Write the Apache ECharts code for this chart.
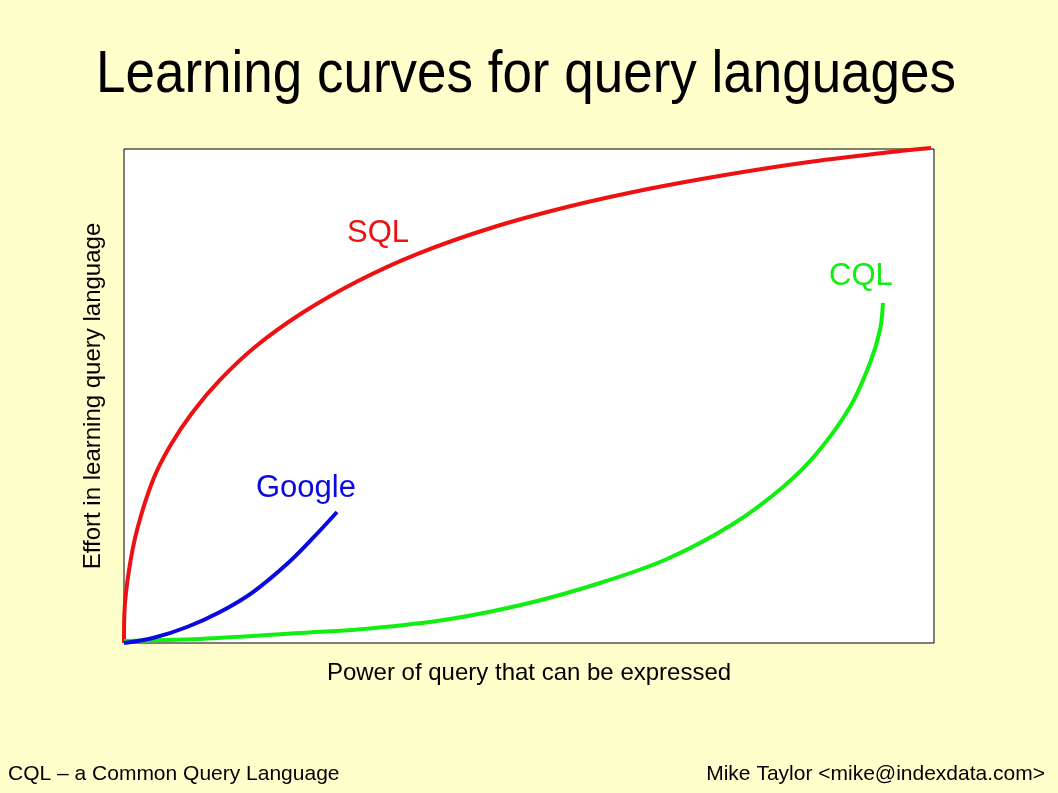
<!DOCTYPE html>
<html>
<head>
<meta charset="utf-8">
<script src="https://cdn.jsdelivr.net/npm/echarts@6/dist/echarts.min.js"></script>
<style>
html,body{margin:0;padding:0;background:#FFFFCC;}
#c{width:1058px;height:793px;}
</style>
</head>
<body>
<div id="c"></div>
<script>
const titleText = 'Learning curves for query languages';
const xAxisName = 'Power of query that can be expressed';
const yAxisName = 'Effort in learning query language';
const footerLeft = 'CQL \u2013 a Common Query Language';
const footerRight = 'Mike Taylor <mike@indexdata.com>';

const seriesNames = ['SQL', 'CQL', 'Google'];

const sqlX = [0, 0.05, 0.62, 1.67, 3.58, 5.65, 8.40, 11.85, 16.17, 21.98, 28.89, 36.17, 45.68, 55.19, 64.69, 74.20, 83.70, 93.09, 99.63];
const sqlY = [0, 6.07, 14.78, 23.28, 33.00, 39.78, 46.56, 53.24, 59.92, 66.80, 73.28, 78.74, 84.21, 88.46, 91.90, 94.74, 97.17, 99.09, 100.20];

const cqlX = [0, 9.38, 21.73, 30.37, 40.25, 49.51, 58.77, 67.04, 75.19, 81.36, 85.56, 89.63, 92.10, 93.33, 93.70];
const cqlY = [0.40, 0.81, 2.02, 2.94, 4.86, 7.89, 12.15, 17.00, 24.09, 31.58, 38.46, 47.77, 56.68, 63.36, 68.83];

const googleX = [0, 3.58, 7.78, 11.85, 15.93, 20.12, 23.33, 26.30];
const googleY = [0, 1.01, 3.24, 6.28, 10.32, 15.99, 21.26, 26.52];

const pair = (xs, ys) => xs.map((x, i) => [x, ys[i]]);

const FONT = 'Liberation Sans, Arial, sans-serif';
const RED = '#EE1111', GREEN = '#11EE11', BLUE = '#0A0AE0';
const SMOOTH = 0.35;
const chart = echarts.init(document.getElementById('c'), null, {renderer: 'canvas'});

chart.setOption({
  backgroundColor: '#FFFFCC',
  animation: false,
  grid: {
    left: 124, right: 124, top: 149, bottom: 150,
    show: true, backgroundColor: '#FFFFFF', borderColor: '#000000', borderWidth: 1
  },
  xAxis: {
    type: 'value', min: 0, max: 100,
    axisLine: {show: false}, axisTick: {show: false}, axisLabel: {show: false}, splitLine: {show: false},
    name: xAxisName, nameLocation: 'middle', nameGap: 18,
    nameTextStyle: {fontFamily: FONT, fontSize: 24, color: '#000'}
  },
  yAxis: {
    type: 'value', min: 0, max: 100,
    axisLine: {show: false}, axisTick: {show: false}, axisLabel: {show: false}, splitLine: {show: false},
    name: yAxisName, nameLocation: 'middle', nameGap: 19, nameRotate: 90,
    nameTextStyle: {fontFamily: FONT, fontSize: 24, color: '#000'}
  },
  series: [
    {
      name: seriesNames[0], type: 'line', data: pair(sqlX, sqlY), smooth: SMOOTH, symbol: 'none', clip: false,
      lineStyle: {color: RED, width: 4}
    },
    {
      name: seriesNames[1], type: 'line', data: pair(cqlX, cqlY), smooth: SMOOTH, symbol: 'none', clip: false,
      lineStyle: {color: GREEN, width: 4}
    },
    {
      name: seriesNames[2], type: 'line', data: pair(googleX, googleY), smooth: SMOOTH, symbol: 'none', clip: false,
      lineStyle: {color: BLUE, width: 4}
    }
  ],
  graphic: [
    {type: 'text', x: 526, y: 45, scaleX: 0.883,
     style: {text: titleText, fontFamily: FONT, fontSize: 60, fill: '#000', textAlign: 'center', textVerticalAlign: 'top'}},
    {type: 'text', left: 347, top: 218, style: {text: seriesNames[0], fontFamily: FONT, fontSize: 31, fill: RED}},
    {type: 'text', left: 829, top: 261, style: {text: seriesNames[1], fontFamily: FONT, fontSize: 31, fill: GREEN}},
    {type: 'text', left: 256, top: 473, style: {text: seriesNames[2], fontFamily: FONT, fontSize: 31, fill: BLUE}},
    {type: 'text', left: 8, top: 764, style: {text: footerLeft, fontFamily: FONT, fontSize: 21, fill: '#000'}},
    {type: 'text', right: 13, top: 764, style: {text: footerRight, fontFamily: FONT, fontSize: 21, fill: '#000'}}
  ]
});
</script>
</body>
</html>
